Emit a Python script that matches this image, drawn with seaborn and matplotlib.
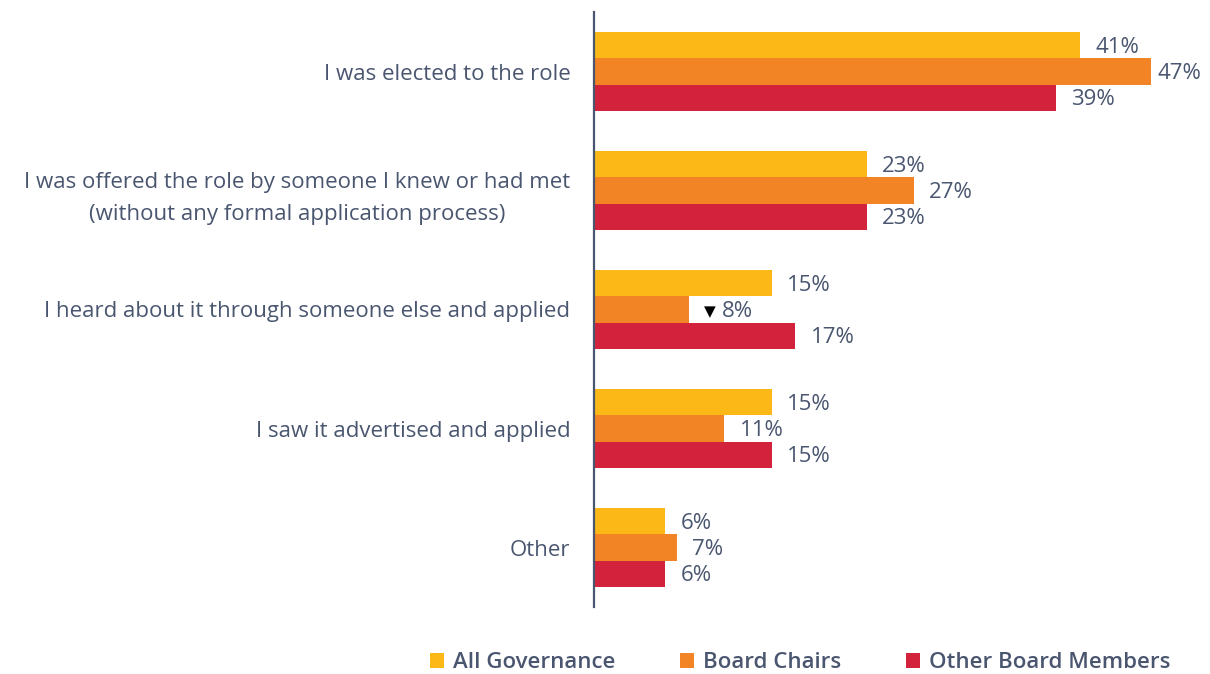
import matplotlib
matplotlib.use("Agg")
import matplotlib.pyplot as plt
from matplotlib.patches import Patch
import seaborn as sns
import pandas as pd

categories = [
    "I was elected to the role",
    "I was offered the role by someone I knew or had met\n(without any formal application process)",
    "I heard about it through someone else and applied",
    "I saw it advertised and applied",
    "Other",
]
groups = ["All Governance", "Board Chairs", "Other Board Members"]
all_governance = [41, 23, 15, 15, 6]
board_chairs = [47, 27, 8, 11, 7]
other_members = [39, 23, 17, 15, 6]
# significantly lower than overall marker (group, category index)
flagged = {("Board Chairs", 2)}

colors = ["#FBB817", "#F28425", "#D3223C"]
text_color = "#4A5670"

series = [all_governance, board_chairs, other_members]
df = pd.DataFrame(
    [(c, g, v) for g, vals in zip(groups, series) for c, v in zip(categories, vals)],
    columns=["category", "group", "value"],
)

sns.set_theme(style="white")
plt.rcParams["font.family"] = ["Open Sans", "DejaVu Sans"]

fig = plt.figure(figsize=(12.1, 6.74), dpi=100)
ax = fig.add_axes([594 / 1210, 1 - 607 / 674, (1210 - 594) / 1210, (607 - 12) / 674])

sns.barplot(
    data=df, y="category", x="value", hue="group", orient="h",
    order=categories, hue_order=groups, palette=colors, saturation=1,
    width=0.665, gap=0, linewidth=0, legend=False, ax=ax,
)

ax.set_xlim(0, (1210 - 594) / 11.85)
ax.set_ylim(4.5, -0.5)
ax.set_xlabel("")
ax.set_ylabel("")
ax.set_xticks([])
for side in ["top", "right", "bottom"]:
    ax.spines[side].set_visible(False)
ax.spines["left"].set_color(text_color)
ax.spines["left"].set_linewidth(1.6)

ax.tick_params(axis="y", length=0, pad=17, labelsize=16, labelcolor=text_color)
for lab in ax.get_yticklabels():
    lab.set_multialignment("center")
    lab.set_linespacing(1.67)

max_val = max(max(s) for s in series)
for g, container, vals in zip(groups, ax.containers, series):
    for i, (bar, v) in enumerate(zip(container, vals)):
        yc = bar.get_y() + bar.get_height() / 2
        pad = 4.5 if v == max_val else 11
        label = f"{v}%"
        if (g, i) in flagged:
            ax.annotate("▼", xy=(v, yc), xytext=(pad, -1.5), textcoords="offset points",
                        ha="left", va="center", fontsize=11, color="black",
                        family=["DejaVu Sans"])
            ax.annotate(label, xy=(v, yc), xytext=(pad + 13, -1.5), textcoords="offset points",
                        ha="left", va="center", fontsize=16, color=text_color)
        else:
            ax.annotate(label, xy=(v, yc), xytext=(pad, -1.5), textcoords="offset points",
                        ha="left", va="center", fontsize=16, color=text_color,
                        annotation_clip=False)

handles = [Patch(facecolor=c, edgecolor="none") for c in colors]
fig.legend(
    handles, groups, loc="center", bbox_to_anchor=(800 / 1210, 1 - 663 / 674),
    ncol=3, frameon=False, handlelength=0.65, handleheight=0.65, handletextpad=0.4,
    columnspacing=2.9, prop={"size": 16, "weight": "semibold"}, labelcolor=text_color,
    borderpad=0.1,
)

fig.savefig("out.png", dpi=100)
